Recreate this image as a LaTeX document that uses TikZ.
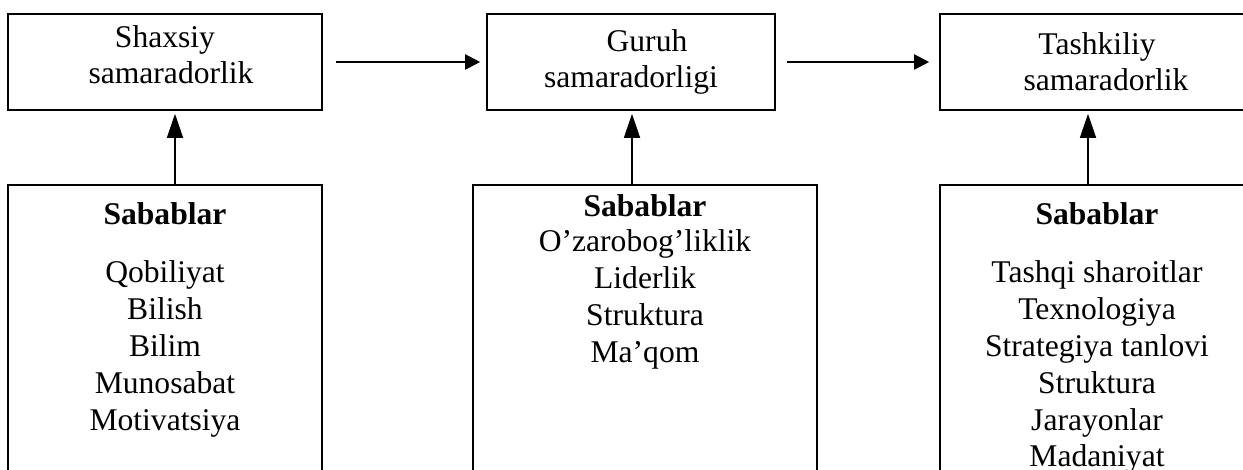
\documentclass[tikz,border=0pt]{standalone}
\usepackage{fontspec}
\setmainfont{Liberation Serif}
\usetikzlibrary{arrows.meta}

\tikzset{
  box/.style={draw, line width=0.8pt, inner sep=0pt, align=center,
    font=\fontsize{15.8}{18}\selectfont},
  item/.style={anchor=base, inner sep=0pt, font=\fontsize{15.8}{18}\selectfont},
  head/.style={item, font=\fontsize{15.8}{18}\selectfont\bfseries},
  flow/.style={line width=1pt, -{Triangle[length=7.5pt,width=7.5pt]}},
  cause/.style={line width=0.7pt, -{Triangle[length=12pt,width=8pt]}},
}

\begin{document}
\begin{tikzpicture}[x=0.5pt,y=-0.5pt]
    \useasboundingbox (0,0) rectangle (1243,470);
    \clip (0,0) rectangle (1243,470);

    % three levels of effectiveness
    \node[box, minimum width=157pt, minimum height=48pt] (t1) at (165,62)
      {Shaxsiy\\\hspace*{6pt}samaradorlik\rule[-7.8pt]{0pt}{0pt}};
    \node[box, minimum width=144pt, minimum height=48pt] (t2) at (631,62)
      {\hspace*{16pt}Guruh\\samaradorligi};
    \node[box, minimum width=157pt, minimum height=48pt] (t3) at (1097,62)
      {Tashkiliy\\\hspace*{9pt}samaradorlik};

    % cause boxes, open at the bottom
    \node[box, minimum width=157pt, minimum height=160pt] (b1) at (165,345) {};
    \node[box, minimum width=172pt, minimum height=160pt] (b2) at (645,345) {};
    \node[box, minimum width=157pt, minimum height=160pt] (b3) at (1097,345) {};

    \node[head] (s1) at (165,225) {Sabablar};
    \foreach \t [count=\i] in {Qobiliyat,Bilish,Bilim,Munosabat,Motivatsiya}
      \node[item] (s1-\i) at (165,246.25+\i*36.75) {\t};

    \node[head] (s2) at (645,217) {Sabablar};
    \foreach \t [count=\i] in {O’zarobog’liklik,Liderlik,Struktura,Ma’qom}
      \node[item] (s2-\i) at (645,215+\i*37) {\t};

    \node[head] (s3) at (1097,225) {Sabablar};
    \foreach \t [count=\i] in {Tashqi sharoitlar,Texnologiya,Strategiya tanlovi,Struktura,Jarayonlar,Madaniyat}
      \node[item] (s3-\i) at (1097,246.25+\i*36.75) {\t};

    \draw[flow, shorten <=6.5pt, shorten >=3pt] (t1.east) -- (t2.west);
    \draw[flow, shorten <=5.5pt, shorten >=5pt] (t2.east) -- (t3.west);

    \draw[cause, shorten >=1.5pt] ([xshift=5pt]b1.north) -- ([xshift=5pt]t1.south);
    \draw[cause, shorten >=1.5pt] ([xshift=0.5pt]t2.south |- b2.north) -- ([xshift=0.5pt]t2.south);
    \draw[cause, shorten >=1.5pt] ([xshift=-4.5pt]b3.north) -- ([xshift=-4.5pt]t3.south);
\end{tikzpicture}
\end{document}
